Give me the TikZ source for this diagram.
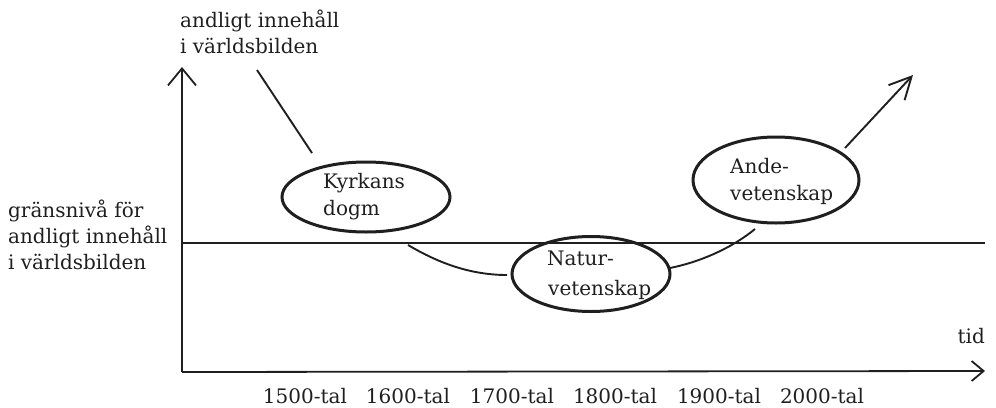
\documentclass[tikz,border=0pt]{standalone}
\usepackage{fontspec}
\setmainfont{DejaVu Serif}
\usetikzlibrary{arrows.meta,shapes.geometric}
\begin{document}
\begin{tikzpicture}[x=1pt,y=-1pt,
  ink/.style={draw=black!88},
  axis/.style={ink,line width=1.8pt},
  blob/.style={ellipse,ink,line width=3pt,inner sep=0pt},
  conn/.style={ink,line width=1.9pt},
  txt/.style={inner sep=0pt,anchor=base west,text=black!88,font=\fontsize{20}{24}\selectfont},
  yr/.style={inner sep=0pt,anchor=base,text=black!88,font=\fontsize{20}{24}\selectfont}]
\useasboundingbox (0,0) rectangle (996,407);
% axes
\coordinate (O) at (182,372);
\coordinate (ytop) at (182,67);
\coordinate (xend) at (985,371);
\coordinate (t0) at (182,243);
\coordinate (t1) at (985,243);
\draw[axis,-{Straight Barb[length=17pt,width=28pt]}] (O) -- (ytop);
\draw[axis,-{Straight Barb[length=12pt,width=20pt]}] (O) -- (xend);
\draw[axis,line width=2.1pt] (t0) -- (t1);
% ellipses
\node[blob,minimum width=168pt,minimum height=70pt] (kd) at (366,197) {};
\node[blob,minimum width=158pt,minimum height=75pt] (nv) at (591,274) {};
\node[blob,minimum width=166pt,minimum height=86pt] (av) at (776,180) {};
% ellipse texts
\node[txt] (kd1) at (323,188) {Kyrkans};
\node[txt] (kd2) at (323,215) {dogm};
\node[txt] (nv1) at (547,265) {Natur-};
\node[txt] (nv2) at (548,295) {vetenskap};
\node[txt] (av1) at (730,173) {Ande-};
\node[txt] (av2) at (730,200) {vetenskap};
% labels
\node[txt] (ya1) at (180,27) {andligt innehåll};
\node[txt] (ya2) at (180,53) {i världsbilden};
\node[txt] (gl1) at (8,217) {gränsnivå för};
\node[txt] (gl2) at (8,243) {andligt innehåll};
\node[txt] (gl3) at (8,269) {i världsbilden};
\node[txt,anchor=base east] (tid) at (985,343) {tid};
\node[yr] (y15) at (305,403) {1500-tal};
\node[yr] (y16) at (408,403) {1600-tal};
\node[yr] (y17) at (512,403) {1700-tal};
\node[yr] (y18) at (615,403) {1800-tal};
\node[yr] (y19) at (719,403) {1900-tal};
\node[yr] (y20) at (822,403) {2000-tal};
% connectors
\coordinate (c1) at (257,70);
\coordinate (c2) at (312,153);
\draw[conn] (c1) -- (c2);
\coordinate (c3) at (408,245);
\coordinate (c4) at (507,275);
\draw[conn] (c3) .. controls (440,264) and (472,275) .. (c4);
\coordinate (c5) at (670,268);
\coordinate (c6) at (755,229);
\draw[conn] (c5) .. controls (700,262) and (732,248) .. (c6);
\coordinate (c7) at (845,148);
\coordinate (c8) at (913,75);
\draw[conn,-{Straight Barb[length=22pt,width=22pt]}] (c7) -- (c8);
\end{tikzpicture}
\end{document}
